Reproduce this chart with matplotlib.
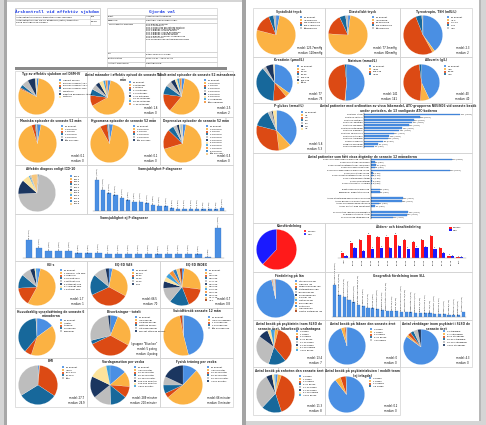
import matplotlib
matplotlib.use("Agg")
import matplotlib.pyplot as plt
from matplotlib.patches import Rectangle

W, H = 486, 425
N_PAT = 700

# excel-like palette used by the report
PAL = ['#4a8fe3', '#fbb243', '#dc4a14', '#17689b', '#bdbdbd', '#1b3660',
       '#fde39b', '#3ea0dc', '#f3923a', '#2e7dbf', '#f7c77e', '#a93a10']
EDGE = '#d2d2d2'
BAR = '#4a8fe3'

# ---------------- data, left page ----------------
typ_labels = ["Uppgift saknas", "Bipolär sjukdom typ I", "Bipolär sjukdom typ II", "Bipolär sjukdom UNS",
              "Cyklotymi", "Egentlig depression, återk.", "Dystymi"]
typ_vals = [2, 80, 1, 3, 6, 7, 1]

man_labels = ["Ej angivet", "0 månader", "1 månad", "2-3 månader", "4-6 månader",
              "7-12 månader", "13-24 månader", "25-36 månader", "> 36 månader"]
man_vals = [3, 64, 10, 6, 5, 4, 4, 2, 2]

epi_labels = ["Ej angivet", "0 episoder", "1 episod", "2 episoder", "3 episoder",
              "4 episoder", "5 episoder", "6-9 episoder", "≥10 episoder"]
epi_vals = [3, 58, 16, 8, 5, 4, 2, 2, 2]

mani_labels = ["Ej angivet", "0 episoder", "1 episod", "2 episoder", "3 episoder", "≥4 episoder"]
mani_vals = [3, 92, 3, 1, 0.5, 0.5]
hypo_vals = [3, 89, 6, 1, 0.5, 0.5]

depr_labels = ["Ej angivet", "0 episoder", "1 episod", "2 episoder", "3 episoder", "4 episoder",
               "5 episoder", "6 episoder", "7 episoder", "8 episoder", "≥9 episoder"]
depr_vals = [3, 68, 17, 5, 3, 2, 1, 0.5, 0.5, 0.5, 0.5]

icd_labels = ["F30.0", "F30.1", "F30.2", "F31.0", "F31.1", "F31.2", "F31.3", "F31.4", "F31.5", "F31.6", "F31.9"]
icd_vals = [0.5, 0.5, 0.3, 0.5, 70, 12, 6, 1, 0.5, 0.5, 5]

sam_f_vals = [162, 108, 92, 80, 68, 55, 48, 47, 40, 32, 27, 24, 13, 11, 10, 10, 10, 9, 9, 9, 16]
sam_ej_vals = [78, 43, 31, 31, 31, 20, 20, 22, 17, 17, 17, 17, 17, 16, 17, 17, 17, 16, 4, 130]

cgi_labels = ["Ej angivet", "1 Normal, inte sjuk", "2 Gränsfall", "3 Lindrigt sjuk",
              "4 Måttligt sjuk", "5 Påtagligt sjuk", "6 Allvarligt sjuk", "7 Extremt sjuk"]
cgi_vals = [3, 55, 16, 12, 8, 4, 1, 1]
vas_labels = ["Ej angivet", "81-100", "61-80", "41-60", "21-40", "0-20"]
vas_vals = [3, 30, 35, 18, 11, 3]
idx_labels = ["Ej angivet", "1.0", "0.9-0.99", "0.8-0.89", "0.7-0.79", "0.6-0.69",
              "0.5-0.59", "0.4-0.49", "0.3-0.39", "0.2-0.29", "0.1-0.19", "<0.1"]
idx_vals = [2, 25, 17, 17, 13, 6, 4, 4, 4, 3, 3, 2]

syss_labels = ["Ej angivet", "Arbetar", "Studerar", "Sjukskriven", "Pensionär"]
syss_vals = [15, 40, 6, 38, 1]
biv_labels = ["Ej angivet", "Inga besvär", "Lindriga besvär", "Måttliga besvär",
              "Uttalade besvär", "Mycket uttalade besvär"]
biv_vals = [6, 27, 35, 3, 27, 2]
sui_labels = ["Ej angivet", "Inga suicidförsök", "1 suicidförsök", "2 suicidförsök", "≥3 suicidförsök"]
sui_vals = [46, 51, 2, 0.5, 0.5]

bmi_labels = ["Ej angivet", "<18.5", "18.5-24.9", "25-29.9", "≥30"]
bmi_vals = [1, 0.5, 33, 32, 34]
vard_labels = ["Ej angivet", "<30 minuter", "30-60 minuter", "60-90 minuter", "90-150 minuter",
               "150-300 minuter", "300-600 minuter", ">600 minuter"]
vard_vals = [13, 12, 9, 13, 14, 17, 14, 3]
fys_labels = ["Ej angivet", "<30 minuter", "30-60 minuter", "60-90 minuter", "90-120 minuter", ">120 minuter"]
fys_vals = [12, 52, 4, 7, 7, 18]

# ---------------- data, right page ----------------
sys_labels = ["Ej angivet", "<140mmHg", "140-159mmHg", "160-179mmHg", "≥180mmHg"]
sys_vals = [3, 76, 15, 4, 2]
dia_labels = ["Ej angivet", "<90mmHg", "90-99mmHg", "100-109mmHg", "≥110mmHg"]
dia_vals = [2, 74, 17, 5, 2]
tsh_labels = ["Ej angivet", "<0.4", "0.4-4.0", "4-10", ">10"]
tsh_vals = [40, 2, 52, 5, 1]
kre_labels = ["Ej angivet", "<60", "60-79", "80-99", "100-119", "120-139", "≥140"]
kre_vals = [35, 4, 12, 38, 3, 7, 1]
nat_labels = ["Ej angivet", "<135", "135-145", ">145"]
nat_vals = [51, 0.5, 47, 1.5]
alb_labels = ["Ej angivet", "<36", "36-45", ">45"]
alb_vals = [43, 8, 47, 2]
glu_labels = ["Ej angivet", "<4", "4-5", "5-6", "6-7", "7-8", ">8"]
glu_vals = [38, 10, 31, 14, 3, 1, 3]

atc_labels = ["N05AN01 Litium", "N06AB06 Sertralin", "N05AH04 Kvetiapin", "N03AX09 Lamotrigin",
              "N06AX16 Venlafaxin", "N06AB10 Escitalopram", "N05AH03 Olanzapin", "N03AG01 Valproinsyra",
              "N06AX11 Mirtazapin", "N05AX12 Aripiprazol", "N05CF01 Zopiklon", "N05BA04 Oxazepam",
              "N06AX12 Bupropion"]
atc_vals = [411, 238, 214, 207, 192, 163, 151, 127, 108, 102, 83, 61, 44]

atg_groups = [
    [("DU011 Psykopedagogisk behandling, individuell", 410), ("DU020 Psykoterapi, individuell", 20),
     ("DU021 Kognitiv beteendeterapi, individuell", 27), ("DU022 Psykodynamisk terapi", 18),
     ("DU118 Psykopedagogisk behandling, grupp", 400), ("DU120 Psykoterapi, grupp", 9),
     ("DU121 Kognitiv beteendeterapi, grupp", 8), ("DU124 Interpersonell terapi", 7),
     ("DU125 Familjeterapi", 6), ("DU126 Stödsamtal, anhöriga", 6)],
    [("Elektrokonvulsiv behandling", 44), ("Transkraniell magnetstimulering", 44)],
    [("AU118 Strukturerad bedömning av suicidrisk", 162), ("AU119 Bedömning av funktionsnivå", 155),
     ("AU120 Neuropsykologisk utredning", 39), ("AU121 Kontakt med socialtjänst", 21)],
    [("XS Ordination, läkemedelsgenomgång", 190), ("XS Blodprovstagning, litium", 180),
     ("XS Samordnad vårdplanering", 109)],
]

kon_labels = ["Kvinnor", "Män"]
kon_vals = [62, 38]
age_groups = ["<20", "20-24", "25-29", "30-34", "35-39", "40-44", "45-49", "50-54",
              "55-59", "60-64", "65-69", "70-74", "75-79", "80+"]
age_kv = [19, 56, 64, 84, 76, 77, 84, 64, 58, 65, 78, 36, 9, 2]
age_man = [6, 36, 25, 34, 37, 35, 43, 33, 37, 40, 34, 18, 6, 2]

lan_labels = ["Stockholms län", "Uppsala län", "Södermanlands län", "Östergötlands län", "Jönköpings län",
              "Kronobergs län", "Kalmar län", "Gotlands län", "Blekinge län", "Skåne län",
              "Hallands län", "Västra Götalands län"]
lan_vals = [97, 0.5, 0.5, 0.3, 0.2, 0.2, 0.2, 0.3, 0.1, 0.3, 0.2, 0.5]

sll_names = ["Södermalm", "Kungsholmen", "Norrmalm", "Östermalm", "Bromma", "Hägersten-Liljeholmen",
             "Huddinge", "Solna", "Nacka", "Sundbyberg", "Skarpnäck", "Enskede-Årsta-Vantör", "Farsta",
             "Älvsjö", "Hässelby-Vällingby", "Spånga-Tensta", "Rinkeby-Kista", "Skärholmen", "Järfälla",
             "Sollentuna", "Täby", "Danderyd", "Lidingö", "Tyresö", "Haninge", "Botkyrka", "Värmdö", "Övriga"]
sll_vals = [105, 70, 65, 55, 48, 40, 35, 30, 28, 25, 22, 20, 19, 18, 17, 16, 15, 14, 13, 12, 12, 11,
            10, 9, 8, 7, 6, 16]

bes_labels = ["0 besök", "1 besök", "2-5 besök", "6-10 besök", "11-20 besök", "21-50 besök",
              "51-100 besök", ">100 besök"]
bes_vals = [1, 3, 35, 16, 30, 9, 3, 3]
lak_labels = ["0 besök", "1 besök", "2-5 besök", "6-10 besök", ">10 besök"]
lak_vals = [95, 3, 1, 0.5, 0.5]
vdd_labels = ["0 vårddagar", "1-7 vårddagar", "8-14 vårddagar", "15-30 vårddagar",
              "31-100 vårddagar", ">100 vårddagar"]
vdd_vals = [85, 2, 3, 3, 4, 3]
enh_vals = [2, 3, 40, 17, 30, 5, 2, 1]
aku_labels = ["0 besök", "1 besök", "2-5 besök", ">5 besök"]
aku_vals = [90, 5, 5, 0.5]

fig = plt.figure(figsize=(W / 100, H / 100), dpi=100)
fig.patch.set_facecolor('#d5d5d5')


def fx(x):
    return x / W


def fy(y):
    return 1 - y / H


def box(x0, y0, x1, y1, fc='none', ec='none', lw=0.4, z=0):
    fig.add_artist(Rectangle((fx(x0), fy(y1)), (x1 - x0) / W, (y1 - y0) / H, transform=fig.transFigure,
                             facecolor=fc, edgecolor=ec, lw=lw, zorder=z))


def ftext(x, y, s, size=1.9, **kw):
    fig.text(fx(x), fy(y), s, fontsize=size, **kw)


def panel(x0, y0, x1, y1, title):
    box(x0, y0, x1, y1, ec=EDGE, lw=0.5, z=1)
    ftext((x0 + x1) / 2, y0 + 1.5, title, size=2.1, ha='center', va='top', fontweight='bold', color='#333333')


def pie_panel(x0, y0, x1, y1, title, vals, labels, stats=None, colors=PAL, top=7, legx=None):
    panel(x0, y0, x1, y1, title)
    d = y1 - y0 - top - 2
    ax = fig.add_axes([fx(x0 + 3), fy(y0 + top + d), d / W, d / H])
    wedges, _ = ax.pie(vals, colors=colors[:len(vals)], startangle=90, counterclock=False,
                       wedgeprops=dict(lw=0.1, edgecolor='white'))
    ax.set_aspect('equal')
    ax.set_xlim(-1.02, 1.02)
    ax.set_ylim(-1.02, 1.02)
    lx = x0 + d + 7 if legx is None else legx
    fig.legend(wedges, labels, loc='upper left', bbox_to_anchor=(fx(lx), fy(y0 + top + 1)), fontsize=1.6,
               frameon=False, handlelength=1.1, handleheight=1.0, labelspacing=0.35, borderpad=0,
               handletextpad=0.5, borderaxespad=0)
    if stats:
        ftext(x1 - 3, y1 - 2, stats, size=1.8, ha='right', va='bottom', linespacing=1.3)


def clean(ax):
    for s in ['top', 'right', 'left']:
        ax.spines[s].set_visible(False)
    ax.spines['bottom'].set_linewidth(0.3)
    ax.spines['bottom'].set_color('#888888')
    ax.set_yticks([])
    ax.tick_params(length=0, labelsize=1.5, pad=0.5)


def vbar_panel(x0, y0, x1, y1, title, vals, bx0, by0, bx1, by1, names=None):
    panel(x0, y0, x1, y1, title)
    ax = fig.add_axes([fx(bx0), fy(by1), (bx1 - bx0) / W, (by1 - by0) / H])
    pos = range(len(vals))
    ax.bar(pos, vals, width=0.68, color=BAR, edgecolor='#2f6fc0', lw=0.2)
    ax.set_xlim(-0.6, len(vals) - 0.4)
    ax.set_ylim(0, max(vals) * 1.05)
    ax.set_xticks([])
    clean(ax)
    for i, v in enumerate(vals):
        lab = f"{v} ({100 * v / N_PAT:.1f}%)"
        if names:
            lab = f"{names[i]} {lab}"
        ax.text(i, v + max(vals) * 0.02, lab, rotation=90, ha='center', va='bottom', fontsize=1.3,
                clip_on=False)
    return ax


# ---------------- page backgrounds ----------------
box(4, 0, 6.5, 425, fc='#a8a8a8')
box(7, 2, 242, 425, fc='white')
box(242, 0, 246, 425, fc='#a4a4a4')
box(246, 0, 479, 421, fc='white')
box(479, 0, 480.5, 421, fc='#b8b8b8')

# ---------------- header tables, left page ----------------
box(15, 8, 100, 25, ec=EDGE, lw=0.5)
box(15, 8, 100, 15, ec=EDGE, lw=0.5)
box(15, 15, 100, 18.5, ec=EDGE, lw=0.5)
box(90, 15, 100, 25, ec=EDGE, lw=0.5)
ftext(57, 11.5, "Årskontroll vid affektiv sjukdom", size=3.2, ha='center', va='center', color='#1f3fe6',
      fontweight='bold', family='DejaVu Sans Mono')
ftext(16, 16.8, "Antal patienter med en årskontroll under perioden", size=1.6, va='center')
ftext(91, 16.8, "700", size=1.6, va='center')
ftext(16, 21.5, "Antal patienter som har en pågående (aktiv) årskontroll,\nbland samtliga med diagnos",
      size=1.6, va='center')
ftext(91, 21.5, "99.9%", size=1.6, va='center')

sel_rows = [("Enhet", "Affektiva mottagningen"), ("Bakgrund", "Samtliga, inga avgränsningar"),
            ("Typ av affektiv sjukdom", "F31 Bipolär sjukdom\nF30.0 Hypomani\nF30.1 Mani utan psykotiska symtom\n"
             "F30.2 Mani med psykotiska symtom\nF31.0 Bipolär, hypoman episod\nF31.1 Bipolär, manisk episod\n"
             "F31.3 Bipolär, lindrig depression\nF31.4 Bipolär, svår depression\nF31.6 Bipolär, blandad episod\n"
             "F31.9 Bipolär sjukdom, ospecificerad\nF34.0 Cyklotymi\nF39 Ospecificerad förstämningssyndrom"),
            ("Kön", "Båda, kvinnor och män"), ("Kontrolldatum", "2012-01-01 - 2012-12-31"),
            ("Aktuellt sjukhusdel", "Samtliga delar")]
row_h = [3.5, 4.5, 29, 5, 5, 5]
box(107, 8, 217, 15, ec=EDGE, lw=0.5)
ftext(162, 11.5, "Gjorda val", size=3.2, ha='center', va='center', color='#1f3fe6', fontweight='bold',
      family='DejaVu Sans Mono')
yy = 15
for (k, v), h in zip(sel_rows, row_h):
    box(107, yy, 145, yy + h, ec=EDGE, lw=0.5)
    box(145, yy, 217, yy + h, ec=EDGE, lw=0.5)
    ftext(108, yy + 1, k, size=1.5, va='top')
    ftext(146, yy + 1, v, size=1.5, va='top', linespacing=1.15)
    yy += h
box(15, 67, 227, 69.5, fc='#8a8a8a')

# ---------------- left page charts ----------------
pie_panel(15, 71, 87, 117, "Typ av affektiv sjukdom enl DSM-IV", typ_vals, typ_labels)
pie_panel(87, 71, 160, 117, "Antal månader i affektiv episod de senaste 52\nmån", man_vals, man_labels,
          "medel: 1.6\nmedian: 0", top=9)
pie_panel(160, 71, 233, 117, "Totalt antal episoder de senaste 52 månaderna", epi_vals, epi_labels,
          "medel: 2.5\nmedian: 2")
pie_panel(15, 117, 87, 165, "Maniska episoder de senaste 52 mån", mani_vals, mani_labels, "medel: 0.1\nmedian: 0")
pie_panel(87, 117, 160, 165, "Hypomana episoder de senaste 52 mån", hypo_vals, mani_labels,
          "medel: 0.1\nmedian: 0")
pie_panel(160, 117, 233, 165, "Depressiva episoder de senaste 52 mån", depr_vals, depr_labels,
          "medel: 0.5\nmedian: 0")
pie_panel(15, 165, 87, 214, "Affektiv diagnos enligt ICD-10", icd_vals, icd_labels, top=9, legx=70)
vbar_panel(87, 165, 233, 214, "Samsjuklighet F-diagnoser", sam_f_vals, 93, 178, 226, 211)
vbar_panel(15, 214, 233, 261, "Samsjuklighet ej F-diagnoser", sam_ej_vals, 23, 226, 224, 258)

pie_panel(15, 261, 87, 308, "CGI-s", cgi_vals, cgi_labels, "medel: 1.7\nmedian: 1")
pie_panel(87, 261, 160, 308, "EQ-5D VAS", vas_vals, vas_labels, "medel: 66.5\nmedian: 70")
pie_panel(160, 261, 233, 308, "EQ-5D INDEX", idx_vals, idx_labels, "medel: 0.7\nmedian: 0.8")
pie_panel(15, 308, 87, 358, "Huvudsaklig sysselsättning de senaste 6\nmånaderna", syss_vals, syss_labels, top=10)
pie_panel(87, 308, 160, 358, "Biverkningar - totalt", biv_vals, biv_labels,
          "I gruppen \"Biverkan\"\nmedel: 5 poäng\nmedian: 4 poäng")
pie_panel(160, 308, 233, 358, "Suicidförsök senaste 12 mån", sui_vals, sui_labels)
pie_panel(15, 358, 87, 407, "BMI", bmi_vals, bmi_labels, "medel: 27.7\nmedian: 26.9")
pie_panel(87, 358, 160, 407, "Vardagsmotion per vecka", vard_vals, vard_labels,
          "medel: 289 minuter\nmedian: 210 minuter")
pie_panel(160, 358, 233, 407, "Fysisk träning per vecka", fys_vals, fys_labels,
          "medel: 66 minuter\nmedian: 0 minuter")

# ---------------- right page charts ----------------
pie_panel(253, 8, 325, 57, "Systoliskt tryck", sys_vals, sys_labels, "medel: 123.7mmHg\nmedian: 120mmHg")
pie_panel(325, 8, 400, 57, "Diastoliskt tryck", dia_vals, dia_labels, "medel: 77.3mmHg\nmedian: 80mmHg")
pie_panel(400, 8, 472, 57, "Tyreotropin, TSH (mIU/L)", tsh_vals, tsh_labels, "medel: 2.3\nmedian: 2")
pie_panel(253, 57, 325, 103, "Kreatinin (µmol/L)", kre_vals, kre_labels, "medel: 77\nmedian: 75")
pie_panel(325, 57, 400, 103, "Natrium (mmol/L)", nat_vals, nat_labels, "medel: 141\nmedian: 141")
pie_panel(400, 57, 472, 103, "Albumin (g/L)", alb_vals, alb_labels, "medel: 40\nmedian: 40")
pie_panel(253, 103, 325, 153, "P-glukos (mmol/L)", glu_vals, glu_labels, "medel: 5.6\nmedian: 5.3")

panel(325, 103, 472, 153, "Antal patienter med ordination av vissa läkemedel, ATC-grupperna N05/N06 vid senaste besök\n"
      "under perioden, de 13 vanligaste ATC-koderna")
ax = fig.add_axes([fx(364), fy(148), (462 - 364) / W, (148 - 113) / H])
ax.barh(range(len(atc_vals)), atc_vals, height=0.6, color=BAR, edgecolor='#2f6fc0', lw=0.2)
ax.set_ylim(len(atc_vals) - 0.5, -0.6)
ax.set_xlim(0, max(atc_vals) * 1.02)
ax.set_yticks(range(len(atc_vals)))
ax.set_yticklabels(atc_labels)
ax.set_xticks([])
for s in ['top', 'right', 'bottom']:
    ax.spines[s].set_visible(False)
ax.spines['left'].set_linewidth(0.3)
ax.tick_params(length=0, labelsize=1.4, pad=1)
for i, v in enumerate(atc_vals):
    ax.text(v + 2, i, f"{v} ({100 * v / N_PAT:.1f}%)", va='center', fontsize=1.3)

panel(253, 153, 472, 223, "Antal patienter som fått vissa åtgärder de senaste 12 månaderna")
ax = fig.add_axes([fx(371), fy(219), (460 - 371) / W, (219 - 158) / H])
pos, labs, vals = [], [], []
p = 0
for g in atg_groups:
    for lab, v in g:
        pos.append(p)
        labs.append(lab)
        vals.append(v)
        p += 1
    p += 1.2
ax.barh(pos, vals, height=0.6, color=BAR, edgecolor='#2f6fc0', lw=0.2)
ax.set_ylim(pos[-1] + 0.6, -0.6)
ax.set_xlim(0, max(vals) * 1.1)
ax.set_yticks(pos)
ax.set_yticklabels(labs)
ax.set_xticks([])
for s in ['top', 'right', 'bottom']:
    ax.spines[s].set_visible(False)
ax.spines['left'].set_linewidth(0.3)
ax.tick_params(length=0, labelsize=1.4, pad=1)
for pp, v in zip(pos, vals):
    ax.text(v + 2, pp, f"{v} ({100 * v / N_PAT:.1f}%)", va='center', fontsize=1.3)

pie_panel(253, 223, 325, 272, "Könsfördelning", kon_vals, kon_labels, colors=['#ff1a1a', '#1a1aff'], top=6,
          legx=304)
panel(325, 223, 472, 272, "Ålders- och könsfördelning")
ax = fig.add_axes([fx(338), fy(258), (466 - 338) / W, (258 - 232) / H])
xs = range(len(age_groups))
ax.bar([x - 0.2 for x in xs], age_kv, width=0.38, color='#ff1a1a', label="Kvinnor")
ax.bar([x + 0.2 for x in xs], age_man, width=0.38, color='#1a1aff', label="Män")
for x, a, b in zip(xs, age_kv, age_man):
    ax.text(x - 0.2, a + 1.5, str(a), ha='center', va='bottom', fontsize=1.3)
    ax.text(x + 0.2, b + 1.5, str(b), ha='center', va='bottom', fontsize=1.3)
ax.set_xlim(-0.7, len(age_groups) - 0.3)
ax.set_ylim(0, max(age_kv) * 1.12)
ax.set_xticks(list(xs))
ax.set_xticklabels(age_groups, rotation=90)
clean(ax)
ax.legend(loc='upper left', bbox_to_anchor=(0.86, 1.25), fontsize=1.6, frameon=False, handlelength=1.1,
          handleheight=1.0, labelspacing=0.35, borderpad=0, handletextpad=0.5)

pie_panel(253, 272, 325, 320, "Fördelning på län", lan_vals, lan_labels, legx=295)
vbar_panel(325, 272, 472, 320, "Geografisk fördelning inom SLL", sll_vals, 332, 283, 466, 317, names=sll_names)

pie_panel(253, 320, 325, 367, "Antal besök på psykiatrin inom SLSO de\nsenaste året, läkarbesök undantagna",
          bes_vals, bes_labels, "medel: 13.4\nmedian: 7", top=9)
pie_panel(325, 320, 400, 367, "Antal besök på läkare den senaste året", lak_vals, lak_labels,
          "medel: 0\nmedian: 0")
pie_panel(400, 320, 472, 367, "Antal vårddagar inom psykiatri i SLSO de\nsenaste året", vdd_vals, vdd_labels,
          "medel: 4.3\nmedian: 0", top=9)
pie_panel(253, 367, 325, 415, "Antal besök på enheten den senaste året", enh_vals, bes_labels,
          "medel: 11.3\nmedian: 8")
pie_panel(325, 367, 400, 415, "Antal besök på psykiatriakuten / mobilt team\n(ej inlagda)", aku_vals, aku_labels,
          "medel: 0.2\nmedian: 0", top=9)

fig.savefig("out.png", dpi=100, facecolor=fig.get_facecolor())
